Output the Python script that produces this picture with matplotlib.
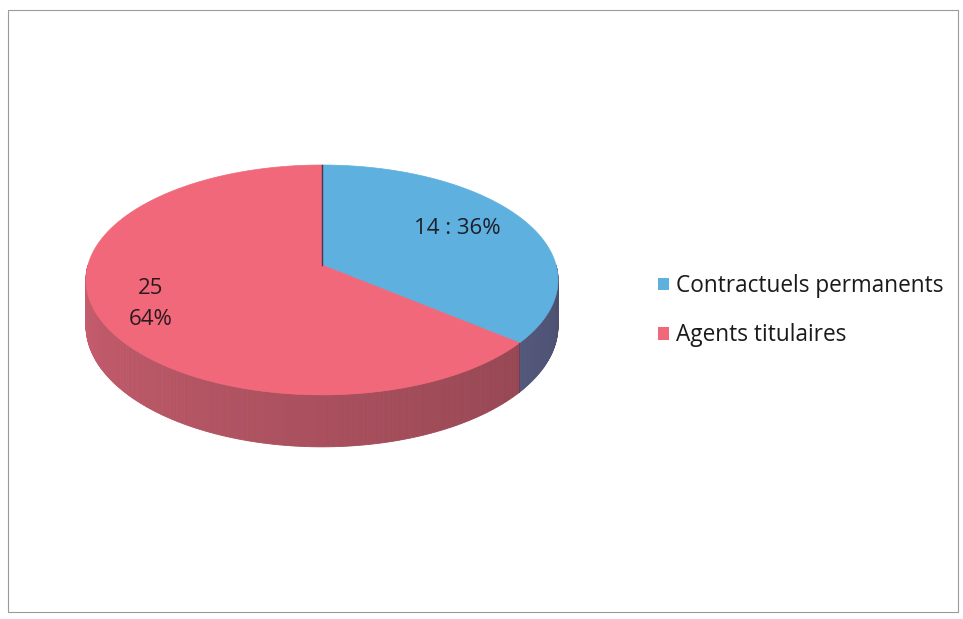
import numpy as np
import matplotlib
matplotlib.use("Agg")
import matplotlib.pyplot as plt
from matplotlib.patches import Polygon, Rectangle, Patch
from matplotlib.colors import to_rgb

categories = ["Contractuels permanents", "Agents titulaires"]
values = [14, 25]
top_colors = ["#5eb0de", "#f0687a"]
side_colors = ["#6a6f9c", "#c05a6a"]

plt.rcParams['font.family'] = ['Open Sans', 'DejaVu Sans']

fig = plt.figure(figsize=(9.63, 6.19), dpi=100)
ax = fig.add_axes([0, 0, 1, 1])
ax.set_xlim(0, 963)
ax.set_ylim(619, 0)
ax.axis('off')

# chart frame
ax.add_patch(Rectangle((8, 10), 950, 602, fill=False, ec="#9a9a9a", lw=0.8))

# 3D pie in perspective (pixel space)
X0, Y0 = 322, 265         # projected pie centre
A, B = 234, 113.0         # horizontal / depth radii
K = 0.13                  # perspective strength
D = 45.2                  # thickness


def proj(t, drop=0.0):
    r = np.radians(t)
    u, v = np.cos(r), np.sin(r)
    w = 1 + K * v
    return X0 + A * u / w, Y0 - B * v / w + drop / w


def shade(c, k):
    c = np.array(to_rgb(c))
    return tuple(np.clip(c * k, 0, 1))


total = sum(values)
fracs = [v / total for v in values]
starts, ends = [], []
a = 90.0
for f in fracs:
    starts.append(a - 360 * f)
    ends.append(a)
    a -= 360 * f

# side walls (front half, 180..360 degrees)
for i in range(len(values)):
    s, e = starts[i] % 360, ends[i] % 360
    if e <= s:
        e += 360
    for lo, hi in [(180, 360), (540, 720)]:
        a0, a1 = max(s, lo), min(e, hi)
        if a1 <= a0:
            continue
        ts = np.linspace(a0, a1, int((a1 - a0) * 2) + 2)
        for t0, t1 in zip(ts[:-1], ts[1:]):
            tm = ((t0 + t1) / 2) % 360
            k = 1.05 - 0.34 * (tm - 180) / 180
            p0, p1 = proj(t0), proj(t1)
            q1, q0 = proj(t1, D), proj(t0, D)
            col = shade(side_colors[i], k)
            ax.add_patch(Polygon([p0, p1, q1, q0], closed=True, fc=col, ec=col, lw=0.6))

# edge between the two slices on the wall
bx, by = proj(starts[0])
ax.plot([bx, bx], [by, proj(starts[0], D)[1]], color="#5a4058", lw=0.8, alpha=0.7)

# top face
for i in range(len(values)):
    ts = np.linspace(starts[i], ends[i], 200)
    pts = [(X0, Y0)] + [proj(t) for t in ts]
    ax.add_patch(Polygon(pts, closed=True, fc=top_colors[i], ec=top_colors[i], lw=0.5))

# slice separation line at 12 o'clock
x12, y12 = proj(90)
ax.plot([X0, x12], [Y0, y12], color="#4a3550", lw=1.0)

# data labels
ax.text(457, 229, f"{values[0]} : {fracs[0] * 100:.0f}%", fontsize=16,
        color="#1e1e2a", ha="center", va="center")
ax.text(151, 304, f"{values[1]}\n{fracs[1] * 100:.0f}%", fontsize=16,
        color="#2a1a20", ha="center", va="center", linespacing=1.65)

handles = [Patch(fc=c, ec="none") for c in top_colors]
ax.legend(handles, categories, loc="center left", bbox_to_anchor=(0.662, 0.498),
          frameon=False, fontsize=16.3, handlelength=0.5, handleheight=0.5,
          handletextpad=0.3, labelspacing=1.12, labelcolor="#1a1a1a")

fig.savefig("out.png", dpi=100)
